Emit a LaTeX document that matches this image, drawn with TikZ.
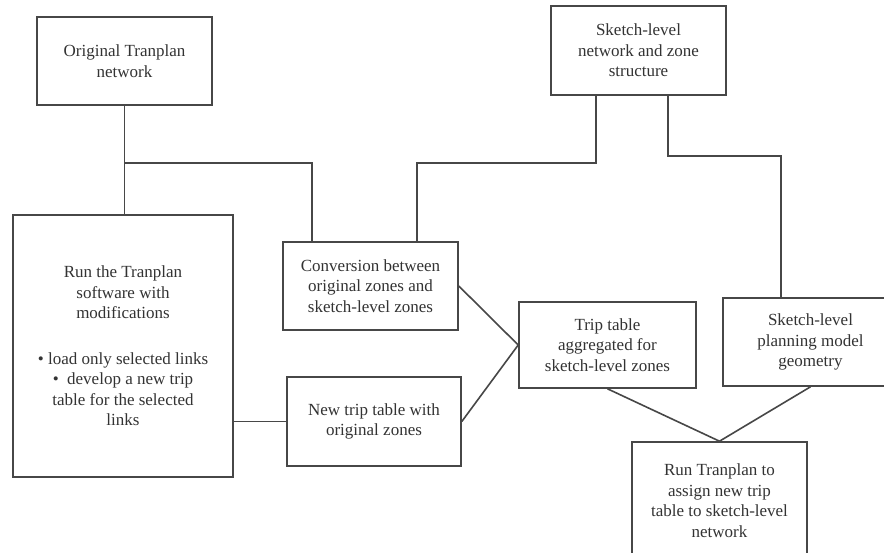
\documentclass[tikz,border=0pt]{standalone}
\usepackage{fontspec}
\setmainfont{Liberation Serif}
\usetikzlibrary{calc}
\begin{document}
\begin{tikzpicture}[x=1pt,y=-1pt,
  box/.style={draw=black!72, line width=1.6pt, fill=white, align=center,
    inner sep=0pt, text=black!80, font=\fontsize{17}{20.5}\selectfont},
  link/.style={draw=black!72, line width=1.6pt}]
\useasboundingbox (0,0) rectangle (884,552);
\clip (0,0) rectangle (884,552);
\fill[white] (0,0) rectangle (884,552);
% nodes
\node[box, minimum width=175, minimum height=88] (A) at (124.5,61) {Original Tranplan\\network};
\node[box, minimum width=220, minimum height=262] (B) at (123,346)
  {Run the Tranplan\\software with\\modifications\\[25pt]%
   \textbullet\ load only selected links\\\textbullet\ \ develop a new trip\\table for the selected\\links};
\node[box, minimum width=175, minimum height=88] (C) at (370.5,286) {Conversion between\\original zones and\\sketch-level zones};
\node[box, minimum width=175, minimum height=89] (D) at (638.5,50.5) {Sketch-level\\network and zone\\structure};
\node[box, minimum width=177, minimum height=86] (E) at (607.5,345) {Trip table\\aggregated for\\sketch-level zones};
\node[box, minimum width=175, minimum height=88] (F) at (810.5,342) {Sketch-level\\planning model\\geometry};
\node[box, minimum width=174, minimum height=89] (G) at (374,421.5) {New trip table with\\original zones};
\node[box, minimum width=175, minimum height=117] (H) at (719.5,500.5) {Run Tranplan to\\assign new trip\\table to sketch-level\\network};
% junctions
\coordinate (j1) at ($(A.south)+(0,57)$);
\coordinate (j2) at ($(D.south west)+(46,67)$);
\coordinate (j3) at ($(D.south west)+(118,60)$);
% connectors
\draw[link] (A.south) -- (A.south |- B.north);
\draw[link] (j1) -| ($(C.north west)+(30,0)$);
\draw[link] ($(D.south west)+(46,0)$) -- (j2) -| ($(C.north west)+(135,0)$);
\draw[link] ($(D.south west)+(118,0)$) -- (j3) -| ($(F.north west)+(59,0)$);
\draw[link] (G.west) -- (G.west -| B.east);
\draw[link] (C.east) -- (E.west);
\draw[link] (G.east) -- (E.west);
\draw[link] (E.south) -- (H.north);
\draw[link] (F.south) -- (H.north);
\end{tikzpicture}
\end{document}
